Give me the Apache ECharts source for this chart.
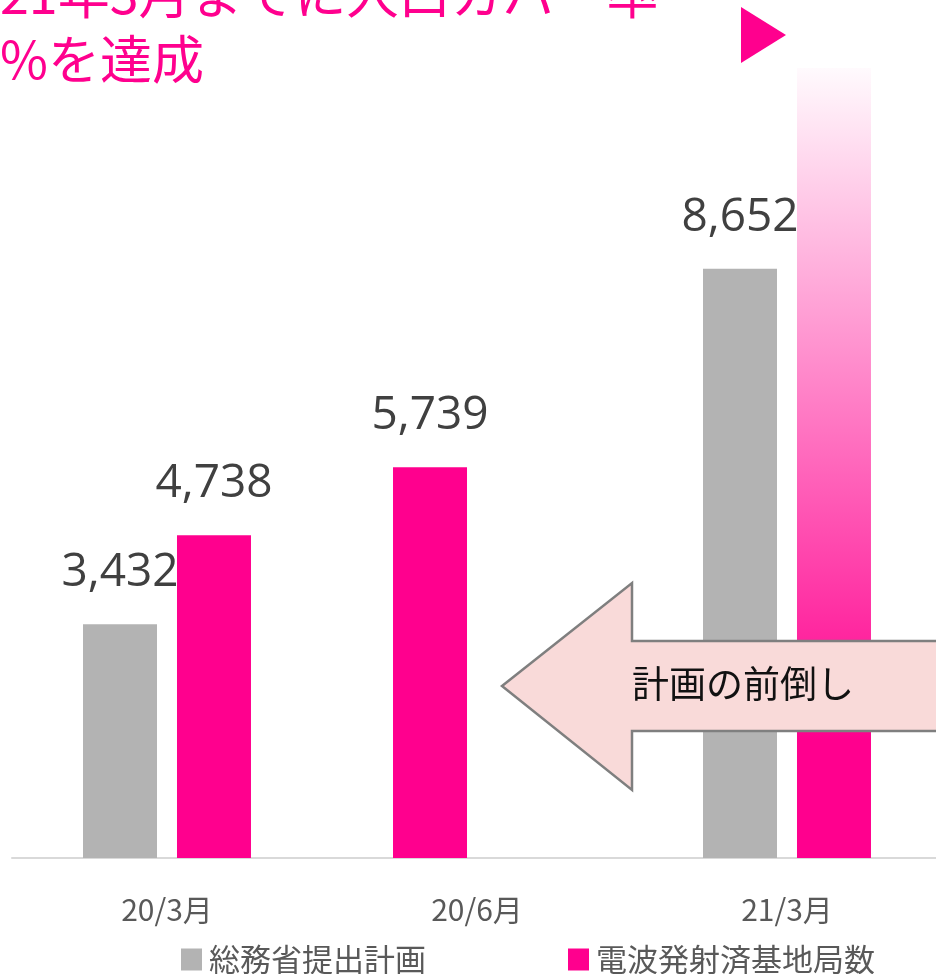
<!DOCTYPE html>
<html>
<head>
<meta charset="utf-8">
<script src="https://cdn.jsdelivr.net/npm/echarts@6/dist/echarts.min.js"></script>
<style>
  html, body { margin: 0; padding: 0; background: #fff; }
  #main { width: 936px; height: 974px; }
</style>
</head>
<body>
<div id="main"></div>
<script>
// categories and values
const categories = ['20/3月', '20/6月', '21/3月'];
const planValues = [3432, null, 8652];      // 総務省提出計画
const earlyValues = [null, 5739, null];     // 20/6 is drawn in the left slot
const actualValues = [4738, null, 11600];   // last one is the gradient bar, no label

const PINK = '#ff008e';
const GRAY = '#b3b3b3';
const CJK = '"Noto Sans CJK JP", sans-serif';

const chart = echarts.init(document.getElementById('main'), null, { renderer: 'canvas' });

function fmt(p) {
    return p.value == null ? '' : Number(p.value).toLocaleString('en-US');
}

const labelStyle = {
    show: true,
    position: 'top',
    distance: 28,
    color: '#404040',
    fontFamily: '"Open Sans", sans-serif',
    fontSize: 46,
    formatter: fmt
};

const gradient = {
    type: 'linear', x: 0, y: 0, x2: 0, y2: 1,
    colorStops: [
        { offset: 0, color: '#fffafd' },
        { offset: 0.85, color: PINK },
        { offset: 1, color: PINK }
    ]
};

const actualData = actualValues.map(function (v, i) {
    if (i === 2) {
        return { value: v, itemStyle: { color: gradient }, label: { show: false } };
    }
    return v;
});

var option = {
    backgroundColor: '#ffffff',
    animation: false,
    grid: { left: 12, right: -6, top: 0, bottom: 116, containLabel: false, outerBoundsMode: 'none' },
    legend: {
        top: 939,
        left: 176,
        itemWidth: 21,
        itemHeight: 22,
        itemGap: 142,
        icon: 'rect',
        textStyle: { color: '#595959', fontSize: 31, fontFamily: CJK, padding: [0, 0, 0, 2] },
        data: ['総務省提出計画', '電波発射済基地局数']
    },
    xAxis: {
        type: 'category',
        data: categories,
        axisTick: { show: false },
        axisLine: { lineStyle: { color: '#d9d9d9', width: 2 } },
        axisLabel: { color: '#595959', fontSize: 30, fontFamily: CJK, margin: 37 }
    },
    yAxis: {
        type: 'value',
        min: 0,
        max: 12600,
        show: false,
        splitLine: { show: false }
    },
    series: [{
        name: '総務省提出計画',
        type: 'bar',
        stack: 'left',
        barWidth: 74,
        barGap: '27%',
        z: 2,
        itemStyle: { color: GRAY },
        label: labelStyle,
        data: planValues
    }, {
        name: '電波発射済基地局数',
        type: 'bar',
        stack: 'left',
        barWidth: 74,
        z: 2,
        itemStyle: { color: PINK },
        label: labelStyle,
        data: earlyValues
    }, {
        name: '電波発射済基地局数',
        type: 'bar',
        barWidth: 74,
        barGap: '27%',
        z: 3,
        itemStyle: { color: PINK },
        label: labelStyle,
        data: actualData
    }],
    graphic: [{
        type: 'text',
        z: 100,
        style: {
            x: 0, y: -6,
            text: '21年3月までに人口カバー率',
            font: '52px ' + CJK,
            fill: PINK,
            verticalAlign: 'middle'
        }
    }, {
        type: 'text',
        z: 100,
        style: {
            x: 0, y: 59,
            text: '%を達成',
            font: '52px ' + CJK,
            fill: PINK,
            verticalAlign: 'middle'
        }
    }, {
        // pink marker at top right
        type: 'polygon',
        z: 100,
        shape: { points: [[741, 7], [741, 63], [786, 35]] },
        style: { fill: PINK }
    }, {
        // "pulled forward" arrow
        type: 'polygon',
        z: 100,
        shape: { points: [[502, 686], [632, 583], [632, 641], [945, 641], [945, 731], [632, 731], [632, 790]] },
        style: { fill: '#f9dad9', stroke: '#7f7f7f', lineWidth: 2.5 }
    }, {
        type: 'text',
        z: 101,
        style: {
            x: 632, y: 684,
            text: '計画の前倒し',
            font: '37px ' + CJK,
            fill: '#111111',
            verticalAlign: 'middle'
        }
    }]
};

chart.setOption(option);
</script>
</body>
</html>
